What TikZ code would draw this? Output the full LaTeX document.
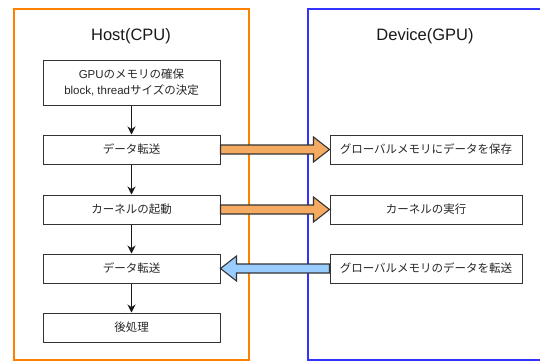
\documentclass[tikz,border=0pt]{standalone}
\usepackage{fontspec}
\setmainfont{Liberation Sans}
\newfontfamily\jp{Noto Sans CJK JP}
\usetikzlibrary{positioning,arrows.meta,calc}

\definecolor{hostorange}{HTML}{FF8000}
\definecolor{devblue}{HTML}{3333FF}
\definecolor{sendorange}{HTML}{F5AA62}
\definecolor{backblue}{HTML}{99CCFF}

% fat arrow between two anchors: #1 style, #2 start, #3 tip
\newcommand{\blockarrow}[3]{%
  \coordinate (hb) at ($(#3)!16pt!(#2)$);
  \draw[#1] ($(#2)+(0,-4.5)$) -- ($(hb)+(0,-4.5)$) -- ($(hb)+(0,-12.5)$) -- (#3)
    -- ($(hb)+(0,12.5)$) -- ($(hb)+(0,4.5)$) -- ($(#2)+(0,4.5)$) -- cycle;
}

\begin{document}
\begin{tikzpicture}[
    x=1pt, y=-1pt,
    font=\fontsize{11.5}{15.5}\selectfont,
    hostbox/.style={rectangle, draw=black!80, line width=1pt, minimum width=177pt, minimum height=29pt, align=center, inner sep=1pt, text=black!85},
    devbox/.style={hostbox, minimum width=192pt},
    title/.style={font=\fontsize{16.5}{18}\selectfont, text=black!90},
    flow/.style={-{Stealth[length=8pt,width=8pt]}, line width=1.1pt, black!90},
    sendarrow/.style={draw=black!80, line width=1.1pt, fill=sendorange, line join=miter},
    backarrow/.style={sendarrow, fill=backblue}
]
\path[use as bounding box, clip] (0,0) rectangle (540,361);

% frames
\draw[hostorange, line width=2pt] (14,9) rectangle (248.5,360);
\draw[devblue, line width=2pt] (307.5,9) rectangle (560,360);
\node[title] (host) at (131,36) {Host(CPU)};
\node[title] (dev) at (425,36) {Device(GPU)};

% Host part
\node[hostbox, minimum height=45pt] (h1) at (131.5,82.5) {GPU{\jp のメモリの確保}\\block, thread{\jp サイズの決定}};
\node[hostbox, below=29pt of h1] (h2) {\jp データ転送};
\node[hostbox, below=30pt of h2] (h3) {\jp カーネルの起動};
\node[hostbox, below=29pt of h3] (h4) {\jp データ転送};
\node[hostbox, below=29pt of h4] (h5) {\jp 後処理};
\draw[flow] (h1) -- (h2);
\draw[flow] (h2) -- (h3);
\draw[flow] (h3) -- (h4);
\draw[flow] (h4) -- (h5);

% Device part
\node[devbox, right=109pt of h2] (d1) {\jp グローバルメモリにデータを保存};
\node[devbox, right=109pt of h3] (d2) {\jp カーネルの実行};
\node[devbox, right=109pt of h4] (d3) {\jp グローバルメモリのデータを転送};

% transfers
\blockarrow{sendarrow}{h2.east}{d1.west}
\blockarrow{sendarrow}{h3.east}{d2.west}
\blockarrow{backarrow}{d3.west}{h4.east}

\end{tikzpicture}
\end{document}
